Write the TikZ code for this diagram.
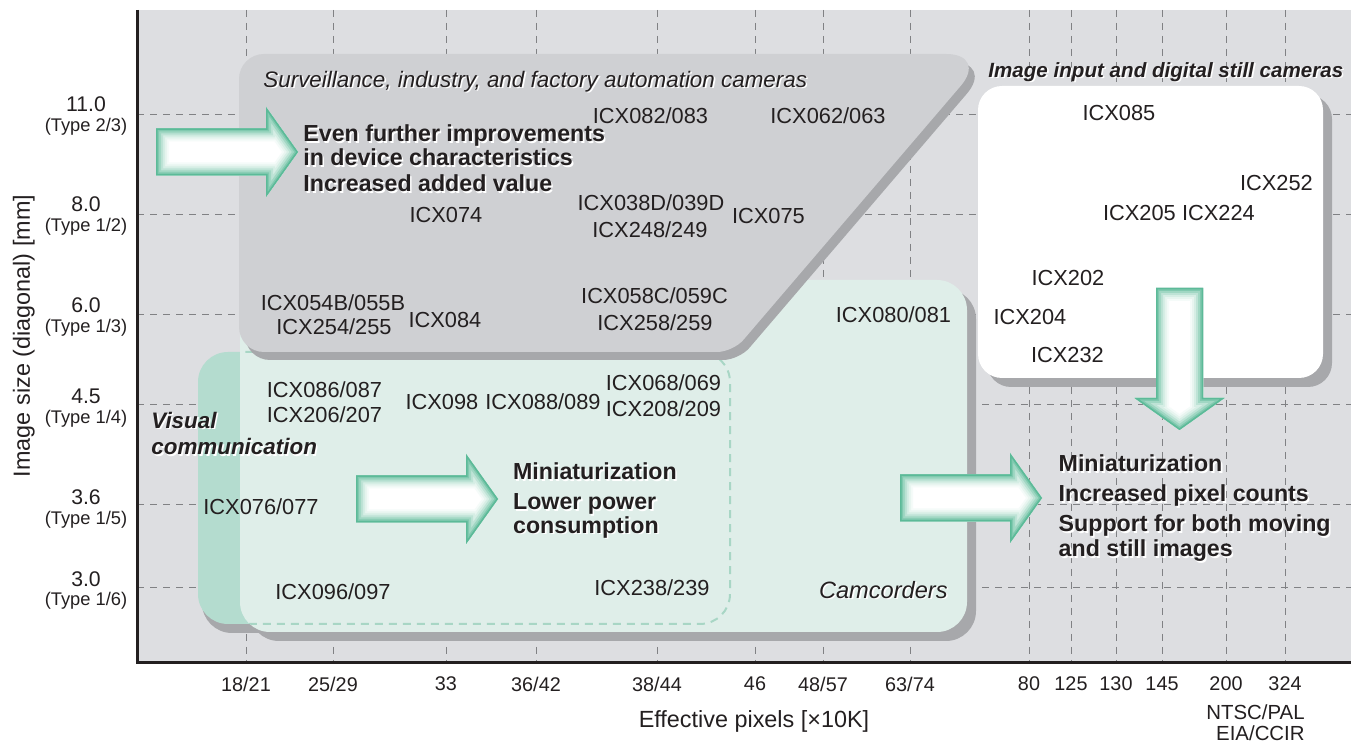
\documentclass[tikz,border=0pt]{standalone}
\usepackage{fontspec}
\setmainfont{Liberation Sans}
\usepackage{tikz}
\usepackage{xcolor}

\definecolor{plotbg}{RGB}{221,222,225}
\definecolor{survgray}{RGB}{207,208,211}
\definecolor{dropgray}{RGB}{167,168,171}
\definecolor{camteal}{RGB}{223,238,233}
\definecolor{visteal}{RGB}{180,220,207}
\definecolor{visdash}{RGB}{168,214,197}
\definecolor{glow}{RGB}{92,186,152}
\definecolor{gridgray}{RGB}{128,129,132}
\definecolor{ink}{RGB}{35,31,32}

\tikzset{
  gridline/.style={gridgray, line width=0.5pt, dash pattern=on 3.5pt off 3pt},
  axisline/.style={ink, line width=1.5pt},
  icx/.style={text=ink, inner sep=0pt, font=\fontsize{10.9}{13}\selectfont},
  tick/.style={text=ink, inner sep=0pt, font=\fontsize{9.9}{12}\selectfont},
  sizeval/.style={text=ink, inner sep=0pt, font=\fontsize{10.6}{12}\selectfont},
  sizetype/.style={text=ink, inner sep=0pt, font=\fontsize{9.15}{11}\selectfont},
  axistitle/.style={text=ink, inner sep=0pt, anchor=base, font=\fontsize{11.7}{14}\selectfont},
  point/.style={text=ink, inner sep=0pt, anchor=base west, font=\bfseries\fontsize{11.6}{14}\selectfont},
  market/.style={text=ink, inner sep=0pt, anchor=base west, font=\itshape\fontsize{11.2}{14}\selectfont},
  marketbold/.style={market, font=\bfseries\itshape\fontsize{11.2}{14}\selectfont},
}

% block arrow pointing along +x, tail at the origin
\newcommand{\fatarrow}{(0,-23.5) -- (110,-23.5) -- (110,-45) -- (142,0) -- (110,45) -- (110,23.5) -- (0,23.5) -- cycle}
\newcommand{\glowarrow}[1]{%
  \begin{scope}[#1]
    \fill[white] \fatarrow;
    \begin{scope}
      \clip \fatarrow;
      \draw[glow!6, line width=13pt] \fatarrow;
      \draw[glow!14, line width=11pt] \fatarrow;
      \draw[glow!25, line width=9pt] \fatarrow;
      \draw[glow!40, line width=7pt] \fatarrow;
      \draw[glow!58, line width=5pt] \fatarrow;
      \draw[glow!78, line width=3pt] \fatarrow;
      \draw[glow, line width=1.5pt] \fatarrow;
    \end{scope}
  \end{scope}}
% text with a white copy just below right
\newcommand{\lifted}[4]{%
  \node[#3, text=white, xshift=0.8pt, yshift=-0.8pt] at (#2) {#4};
  \node[#3] (#1) at (#2) {#4};}

\begin{document}
\begin{tikzpicture}[x=0.5pt,y=-0.5pt]
\useasboundingbox (0,0) rectangle (1351,742);
% plot area
\fill[plotbg] (137,10) rectangle (1351,663);
\draw[gridline] (246,10) -- (246,663);
\draw[gridline] (333,10) -- (333,663);
\draw[gridline] (446,10) -- (446,663);
\draw[gridline] (536,10) -- (536,663);
\draw[gridline] (657,10) -- (657,663);
\draw[gridline] (755,10) -- (755,663);
\draw[gridline] (823,10) -- (823,663);
\draw[gridline] (910,10) -- (910,663);
\draw[gridline] (1029,10) -- (1029,663);
\draw[gridline] (1071,10) -- (1071,663);
\draw[gridline] (1116,10) -- (1116,663);
\draw[gridline] (1162,10) -- (1162,663);
\draw[gridline] (1226,10) -- (1226,663);
\draw[gridline] (1285,10) -- (1285,663);
\draw[gridline] (137,115) -- (1351,115);
\draw[gridline] (137,215) -- (1351,215);
\draw[gridline] (137,315) -- (1351,315);
\draw[gridline] (137,405) -- (1351,405);
\draw[gridline] (137,505) -- (1351,505);
\draw[gridline] (137,588) -- (1351,588);

% visual communication
\fill[dropgray, rounded corners=15pt] (202,361) rectangle (734,633);
\fill[visteal, rounded corners=15pt] (198,352) rectangle (730,624);
% camcorders
\fill[dropgray, rounded corners=15pt] (249,289) rectangle (976,641);
\fill[camteal, rounded corners=15pt] (240,280) rectangle (967,632);
\begin{scope}
  \clip[rounded corners=15pt] (240,280) rectangle (967,632);
  \draw[visdash, line width=1pt, dash pattern=on 4pt off 3pt, rounded corners=15pt] (198,352) rectangle (730,624);
\end{scope}
% surveillance / FA
\fill[dropgray] (245,208) [rounded corners=12.5pt] -- (245,62) [rounded corners=21pt] -- (994,62) [rounded corners=8pt] -- (739,360) [rounded corners=12.5pt] -- (245,360) -- cycle;
\fill[survgray] (239,200) [rounded corners=12.5pt] -- (239,54) [rounded corners=21pt] -- (988,54) [rounded corners=8pt] -- (733,352) [rounded corners=12.5pt] -- (239,352) -- cycle;
% image input / DSC
\fill[dropgray, rounded corners=12pt] (987,95) rectangle (1332,387);
\fill[white, rounded corners=12pt] (978,86) rectangle (1323,378);

% axes
\draw[axisline] (137,10) -- (137,663) -- (1351,663);

% arrows
\glowarrow{shift={(156,152)}}
\glowarrow{shift={(356,499)}}
\glowarrow{shift={(900,498)}}
\glowarrow{shift={(1179.5,288)}, rotate=-90}

% group titles
\lifted{surv}{263,87.3}{market}{Surveillance, industry, and factory automation cameras}
\lifted{still}{988,77.3}{marketbold, font=\bfseries\itshape\fontsize{10.3}{13}\selectfont}{Image input and digital still cameras}
\lifted{vis1}{151,428.3}{marketbold}{Visual}
\lifted{vis2}{151,455}{marketbold}{communication}
\lifted{camc}{948,598.3}{market, anchor=base east, font=\itshape\fontsize{11.8}{14}\selectfont}{Camcorders}

% trends
\lifted{ev1}{303,141.7}{point}{Even further improvements}
\lifted{ev2}{303,165.5}{point}{in device characteristics}
\lifted{ev3}{303,191.7}{point}{Increased added value}
\lifted{mid1}{512.7,480}{point}{Miniaturization}
\lifted{mid2}{512.7,510}{point}{Lower power}
\lifted{mid3}{512.7,533.3}{point}{consumption}
\lifted{rt1}{1058.3,471.7}{point}{Miniaturization}
\lifted{rt2}{1058.3,501.7}{point}{Increased pixel counts}
\lifted{rt3}{1058.3,531.7}{point}{Support for both moving}
\lifted{rt4}{1058.3,556.7}{point}{and still images}

% sensors
\node[icx] (icx082) at (650.5,116) {ICX082/083};
\node[icx] (icx062) at (828,116) {ICX062/063};
\node[icx] (icx074) at (446,215) {ICX074};
\node[icx] (icx038) at (651,203) {ICX038D/039D};
\node[icx] (icx248) at (650,230) {ICX248/249};
\node[icx] (icx075) at (768.5,216) {ICX075};
\node[icx] (icx054) at (333,303) {ICX054B/055B};
\node[icx] (icx254) at (334,327) {ICX254/255};
\node[icx] (icx084) at (445,320) {ICX084};
\node[icx] (icx058) at (654.5,295.5) {ICX058C/059C};
\node[icx] (icx258) at (655,322.5) {ICX258/259};
\node[icx] (icx080) at (893.5,315) {ICX080/081};
\node[icx] (icx086) at (324.5,390) {ICX086/087};
\node[icx] (icx206) at (324.5,415) {ICX206/207};
\node[icx] (icx098) at (442,402) {ICX098};
\node[icx] (icx088) at (543,402) {ICX088/089};
\node[icx] (icx068) at (663.5,382.7) {ICX068/069};
\node[icx] (icx208) at (663.5,409) {ICX208/209};
\node[icx] (icx076) at (261,506.7) {ICX076/077};
\node[icx] (icx096) at (333,592) {ICX096/097};
\node[icx] (icx238) at (652,588) {ICX238/239};
\node[icx] (icx085) at (1119,113) {ICX085};
\node[icx] (icx252) at (1276.5,183) {ICX252};
\node[icx] (icx205) at (1139.5,213) {ICX205};
\node[icx] (icx224) at (1218.5,213) {ICX224};
\node[icx] (icx202) at (1068,278) {ICX202};
\node[icx] (icx204) at (1030,317) {ICX204};
\node[icx] (icx232) at (1067.5,355) {ICX232};

% y axis
\node[sizeval] (s110) at (86,104) {11.0};
\node[sizetype] (t23) at (86,127) {(Type 2/3)};
\node[sizeval] (s80) at (86,204) {8.0};
\node[sizetype] (t12) at (86,227) {(Type 1/2)};
\node[sizeval] (s60) at (86,305) {6.0};
\node[sizetype] (t13) at (86,328) {(Type 1/3)};
\node[sizeval] (s45) at (86,396) {4.5};
\node[sizetype] (t14) at (86,419) {(Type 1/4)};
\node[sizeval] (s36) at (86,497) {3.6};
\node[sizetype] (t15) at (86,520) {(Type 1/5)};
\node[sizeval] (s30) at (86,579) {3.0};
\node[sizetype] (t16) at (86,601) {(Type 1/6)};
\node[axistitle, rotate=90] (ytitle) at (30,336) {Image size (diagonal) [mm]};

% x axis
\node[tick] (p1821) at (246,684) {18/21};
\node[tick] (p2529) at (333,684) {25/29};
\node[tick] (p33) at (446,684) {33};
\node[tick] (p3642) at (536,684) {36/42};
\node[tick] (p3844) at (657,684) {38/44};
\node[tick] (p46) at (755,684) {46};
\node[tick] (p4857) at (823,684) {48/57};
\node[tick] (p6374) at (910,684) {63/74};
\node[tick] (p80) at (1029,684) {80};
\node[tick] (p125) at (1071,684) {125};
\node[tick] (p130) at (1116,684) {130};
\node[tick] (p145) at (1162,684) {145};
\node[tick] (p200) at (1226,684) {200};
\node[tick] (p324) at (1285,684) {324};
\node[tick, anchor=east, font=\fontsize{10.2}{12}\selectfont] (ntsc) at (1305,712) {NTSC/PAL};
\node[tick, anchor=east, font=\fontsize{10.2}{12}\selectfont] (eia) at (1305,733) {EIA/CCIR};
\node[axistitle] (xtitle) at (754,728) {Effective pixels [×10K]};
\end{tikzpicture}
\end{document}
